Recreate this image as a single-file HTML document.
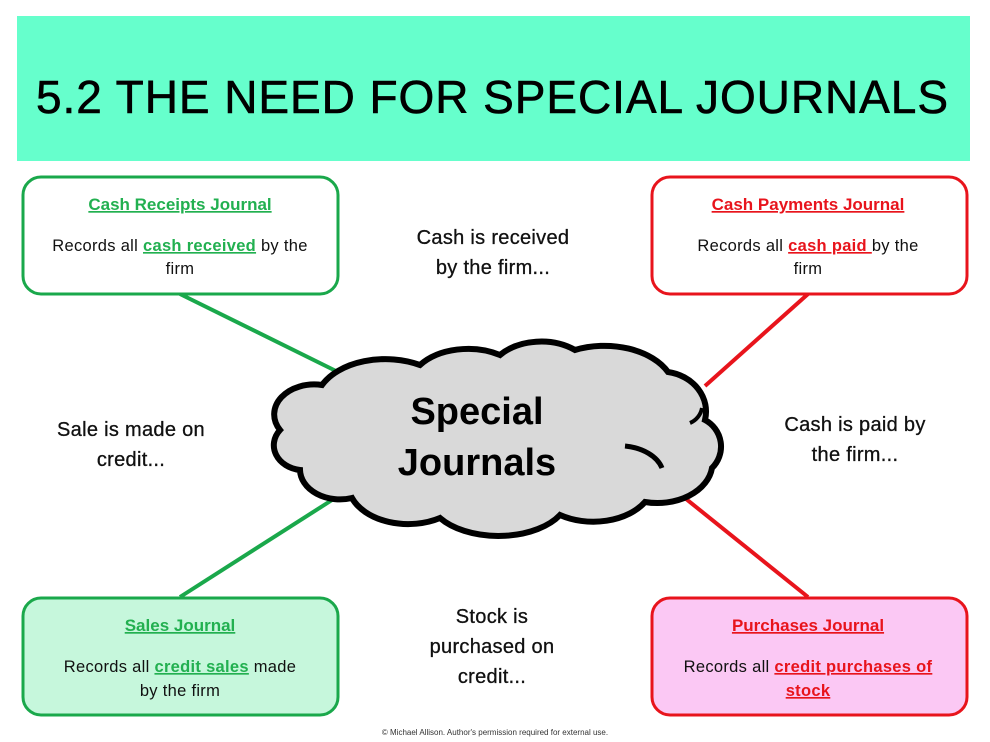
<!DOCTYPE html>
<html><head><meta charset="utf-8"><style>
html,body{margin:0;padding:0;background:#fff;width:990px;height:742px;overflow:hidden}
svg{display:block}
text{font-family:"Liberation Sans",sans-serif}
.h{font-weight:bold;font-size:17px;text-decoration:underline;text-anchor:middle}
.b{font-size:16.5px;fill:#111;text-anchor:middle;letter-spacing:0.3px}
.m{font-size:20px;fill:#111;text-anchor:middle;letter-spacing:0.3px;stroke:#111;stroke-width:0.3}
.g{fill:#22b050;font-weight:bold;text-decoration:underline}
.r{fill:#e8141c;font-weight:bold;text-decoration:underline}
</style></head><body>
<svg width="990" height="742" viewBox="0 0 990 742">
<rect x="17" y="16" width="953" height="145" fill="#66ffcc"/>
<text x="492" y="113" font-size="46" fill="#000" stroke="#000" stroke-width="0.6" text-anchor="middle" textLength="912" lengthAdjust="spacing">5.2 THE NEED FOR SPECIAL JOURNALS</text>

<line x1="180" y1="294" x2="338" y2="372" stroke="#1aa84b" stroke-width="4"/>
<line x1="180" y1="597" x2="332" y2="500" stroke="#1aa84b" stroke-width="4"/>
<line x1="808" y1="294" x2="705" y2="386" stroke="#e8141c" stroke-width="4"/>
<line x1="808" y1="597" x2="660" y2="478" stroke="#e8141c" stroke-width="4"/>

<path d="M280,430 A40,30 0 0 1 322,385 A70,45 0 0 1 420,365 A60,40 0 0 1 500,355 A55,40 0 0 1 575,350 A70,45 0 0 1 668,372 A45,40 0 0 1 705,420 A30,30 0 0 1 712,468 A55,40 0 0 1 645,502 A60,40 0 0 1 560,515 A70,40 0 0 1 440,518 A60,40 0 0 1 352,498 A40,30 0 0 1 300,470 A30,25 0 0 1 280,430 Z" fill="#d9d9d9" stroke="#000" stroke-width="6"/>
<path d="M625,446 A45,30 0 0 1 662,468" fill="none" stroke="#000" stroke-width="5"/>
<path d="M690,423 A20,20 0 0 0 702,408" fill="none" stroke="#000" stroke-width="4"/>
<text x="477" y="424" font-size="38" font-weight="bold" text-anchor="middle">Special</text>
<text x="477" y="475" font-size="38" font-weight="bold" text-anchor="middle">Journals</text>

<rect x="23" y="177" width="315" height="117" rx="18" fill="#fff" stroke="#1aa84b" stroke-width="3"/>
<text x="180" y="210" class="h" fill="#22b050">Cash Receipts Journal</text>
<text x="180" y="251" class="b">Records all <tspan class="g">cash received</tspan> by the</text>
<text x="180" y="274" class="b">firm</text>

<rect x="652" y="177" width="315" height="117" rx="18" fill="#fff" stroke="#e8141c" stroke-width="3"/>
<text x="808" y="210" class="h" fill="#e8141c">Cash Payments Journal</text>
<text x="808" y="251" class="b">Records all <tspan class="r">cash paid </tspan>by the</text>
<text x="808" y="274" class="b">firm</text>

<rect x="23" y="598" width="315" height="117" rx="18" fill="#c6f7dc" stroke="#1aa84b" stroke-width="3"/>
<text x="180" y="631" class="h" fill="#22b050">Sales Journal</text>
<text x="180" y="672" class="b">Records all <tspan class="g">credit sales</tspan> made</text>
<text x="180" y="696" class="b">by the firm</text>

<rect x="652" y="598" width="315" height="117" rx="18" fill="#fbc8f4" stroke="#e8141c" stroke-width="3"/>
<text x="808" y="631" class="h" fill="#e8141c">Purchases Journal</text>
<text x="808" y="672" class="b">Records all <tspan class="r">credit purchases of</tspan></text>
<text x="808" y="696" class="b"><tspan class="r">stock</tspan></text>

<text x="493" y="244" class="m">Cash is received</text>
<text x="493" y="274" class="m">by the firm...</text>
<text x="131" y="436" class="m">Sale is made on</text>
<text x="131" y="466" class="m">credit...</text>
<text x="855" y="431" class="m">Cash is paid by</text>
<text x="855" y="461" class="m">the firm...</text>
<text x="492" y="623" class="m">Stock is</text>
<text x="492" y="653" class="m">purchased on</text>
<text x="492" y="683" class="m">credit...</text>

<text x="495" y="735" font-size="8" fill="#333" text-anchor="middle">© Michael Allison. Author's permission required for external use.</text>
</svg>
</body></html>
